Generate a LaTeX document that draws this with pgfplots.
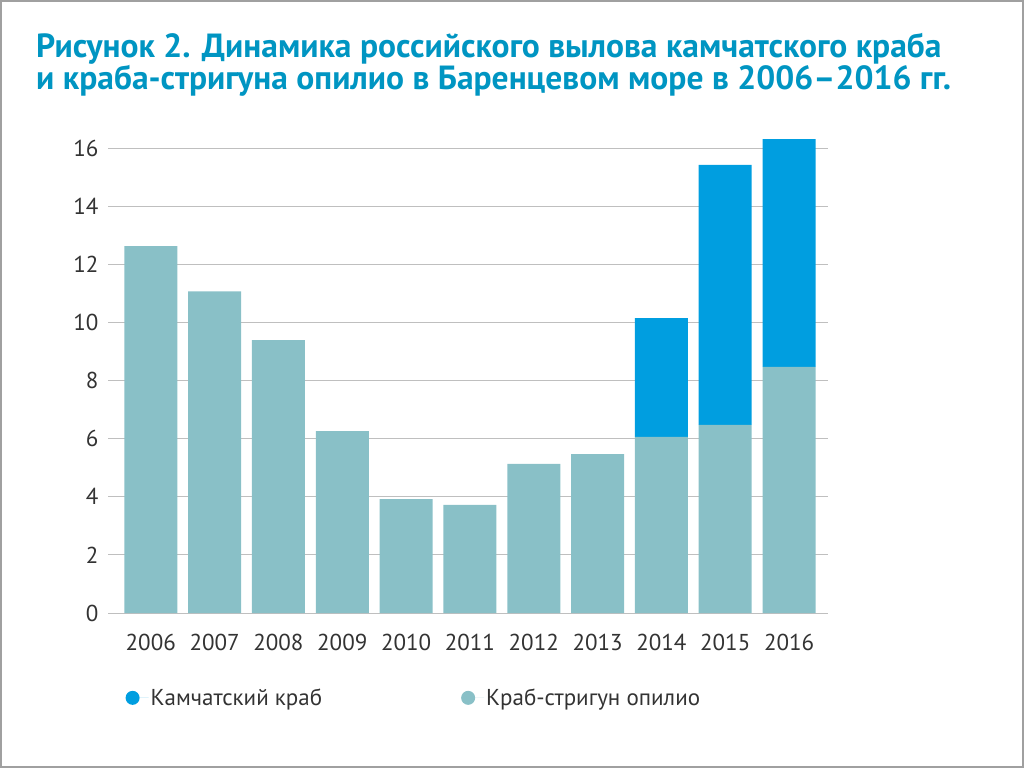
\documentclass[border=0pt]{standalone}
\usepackage{fontspec}
\setmainfont{PT Sans}
\usepackage{pgfplots}
\pgfplotsset{compat=1.18}
\definecolor{teal1}{HTML}{89C0C7}
\definecolor{blue1}{HTML}{009EE0}
\definecolor{titleblue}{HTML}{0095C2}
\definecolor{grid1}{HTML}{BFBFBF}
\definecolor{txt}{HTML}{333333}
\definecolor{frame}{HTML}{A0A0A0}
\begin{document}
\begin{tikzpicture}[x=1pt,y=1pt]
\draw[draw=frame, line width=2pt] (1pt,1pt) rectangle (1023pt,767pt);
\node[anchor=base west, inner sep=0pt, text=titleblue, align=left, font=\fontsize{33.5}{30}\selectfont\bfseries] at (36pt,678pt) {Рисунок 2. Динамика российского вылова камчатского краба\\и краба-стригуна опилио в Баренцевом море в 2006–2016 гг.};
\begin{axis}[
  at={(108pt,155pt)}, anchor=south west,
  scale only axis, width=720pt, height=476.6pt,
  ybar stacked, bar width=53pt,
  xmin=-0.67, xmax=10.61, ymin=0, ymax=16.4,
  xtick=data,
  xticklabels={2006,2007,2008,2009,2010,2011,2012,2013,2014,2015,2016},
  ytick={0,2,...,16},
  ymajorgrids, major grid style={grid1, line width=1pt},
  axis line style={draw=none}, tick style={draw=none},
  /pgf/number format/assume math mode=true,
  ticklabel style={font=\fontsize{23}{26}\selectfont, text=txt},
  yticklabel style={xshift=-6pt},
  xticklabel style={yshift=-18pt},
  legend style={at={(0.02,-0.178)}, anchor=west, draw=none, fill=none,
    font=\fontsize{23}{26}\selectfont, text=txt,
    legend columns=2,
    /tikz/every even column/.append style={column sep=137pt}},
  reverse legend,
]
\addplot[fill=teal1, draw=none, legend image code/.code={\fill[teal1] (0pt,0pt) circle (7pt); \path (7pt,0pt) -- (16pt,0pt);}] coordinates {
(0,12.62) (1,11.07) (2,9.39) (3,6.26) (4,3.92) (5,3.72) (6,5.13) (7,5.47) (8,6.06) (9,6.47) (10,8.47)};
\addlegendentry{Краб-стригун опилио}
\addplot[fill=blue1, draw=none, legend image code/.code={\fill[blue1] (0pt,0pt) circle (7pt); \path (7pt,0pt) -- (16pt,0pt);}] coordinates {
(0,0) (1,0) (2,0) (3,0) (4,0) (5,0) (6,0) (7,0) (8,4.09) (9,8.95) (10,7.84)};
\addlegendentry{Камчатский краб}
\end{axis}
\end{tikzpicture}
\end{document}
